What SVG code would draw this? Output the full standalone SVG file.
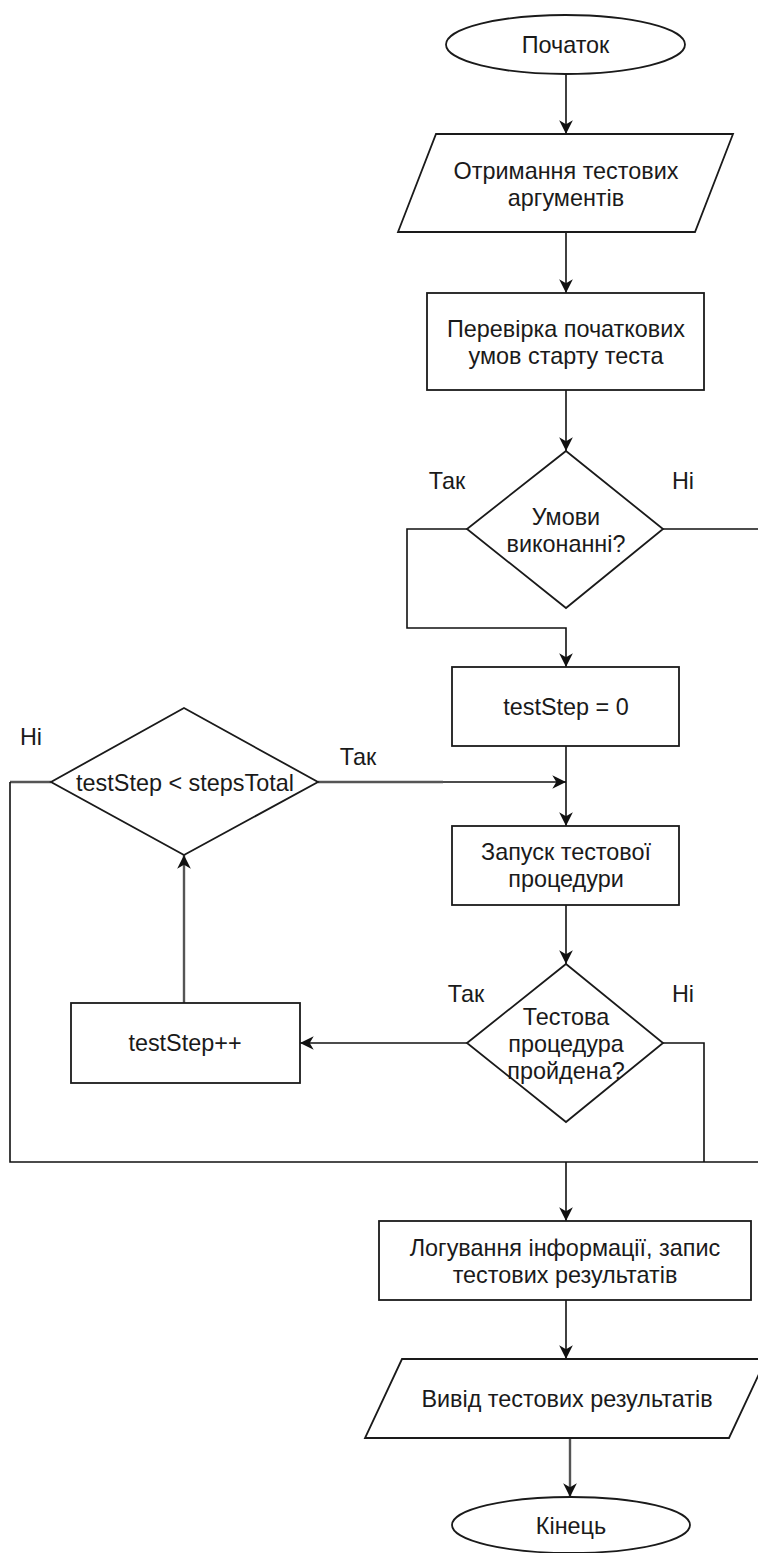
<svg xmlns="http://www.w3.org/2000/svg" width="758" height="1553" viewBox="0 0 758 1553">
  <style>
    .shape { fill: #ffffff; stroke: #1a1a1a; stroke-width: 1.8; }
    .lbl { font-family: "Liberation Sans", Arial, sans-serif; font-size: 23.4px; fill: #1a1a1a; text-anchor: middle; }
    .edge { fill: none; stroke: #111111; stroke-width: 1.6; }
    .edge-gray { fill: none; stroke: #555555; stroke-width: 2.4; }
  </style>
  <defs>
    <marker id="arrow" viewBox="0 0 14 14" refX="13" refY="7" markerWidth="16" markerHeight="16" markerUnits="userSpaceOnUse" orient="auto">
      <path d="M1,1 L13,7 L1,13 L4.5,7 z" fill="#111111"/>
    </marker>
  </defs>
  <rect width="758" height="1553" fill="#ffffff"/>

  <!-- connectors -->
  <g id="connectors">
    <path class="edge" d="M566,74 L566,134" marker-end="url(#arrow)"/>
    <path class="edge" d="M566,232 L566,293" marker-end="url(#arrow)"/>
    <path class="edge" d="M566,390 L566,451" marker-end="url(#arrow)"/>
    <path class="edge" d="M467,529 L407,529 L407,628 L566,628 L566,667" marker-end="url(#arrow)"/>
    <path class="edge" d="M663,529 L760,529"/>
    <path class="edge" d="M566,746 L566,826" marker-end="url(#arrow)"/>
    <path class="edge-gray" d="M318,782 L443,782"/>
    <path class="edge" d="M443,782 L566,782" marker-end="url(#arrow)"/>
    <path class="edge" d="M566,905 L566,964" marker-end="url(#arrow)"/>
    <path class="edge" d="M467,1043 L300,1043" marker-end="url(#arrow)"/>
    <path class="edge-gray" d="M184,1003 L184,855" marker-end="url(#arrow)"/>
    <path class="edge" d="M663,1043 L704,1043 L704,1162"/>
    <path class="edge-gray" d="M51,782 L10,782"/>
    <path class="edge" d="M10,782 L10,1162 L760,1162"/>
    <path class="edge" d="M566,1162 L566,1221" marker-end="url(#arrow)"/>
    <path class="edge" d="M566,1300 L566,1359" marker-end="url(#arrow)"/>
    <path class="edge-gray" d="M570,1438 L570,1497" marker-end="url(#arrow)"/>
  </g>

  <!-- edge labels -->
  <g id="edge-labels">
    <text class="lbl" x="447" y="489">Так</text>
    <text class="lbl" x="683" y="489">Ні</text>
    <text class="lbl" x="31" y="745">Ні</text>
    <text class="lbl" x="358" y="765">Так</text>
    <text class="lbl" x="466" y="1002">Так</text>
    <text class="lbl" x="683" y="1002">Ні</text>
  </g>

  <g id="start">
    <ellipse class="shape" cx="565.5" cy="44.5" rx="119.5" ry="29.5"/>
    <text class="lbl" x="565.5" y="53">Початок</text>
  </g>

  <g id="get-args">
    <polygon class="shape" points="436,134 733,134 695,232 398,232"/>
    <text class="lbl" x="566" y="179">Отримання тестових</text>
    <text class="lbl" x="566" y="206">аргументів</text>
  </g>

  <g id="check-conditions">
    <rect class="shape" x="427" y="293" width="277" height="97"/>
    <text class="lbl" x="566" y="337">Перевірка початкових</text>
    <text class="lbl" x="566" y="364">умов старту теста</text>
  </g>

  <g id="conditions-met">
    <polygon class="shape" points="566,451 663,529 566,608 467,529"/>
    <text class="lbl" x="566" y="525">Умови</text>
    <text class="lbl" x="566" y="552">виконанні?</text>
  </g>

  <g id="init-step">
    <rect class="shape" x="452" y="667" width="227" height="79"/>
    <text class="lbl" x="566" y="715">testStep = 0</text>
  </g>

  <g id="step-check">
    <polygon class="shape" points="184,708 318,782 184,855 51,782"/>
    <text class="lbl" x="185" y="791">testStep &lt; stepsTotal</text>
  </g>

  <g id="run-procedure">
    <rect class="shape" x="452" y="826" width="227" height="79"/>
    <text class="lbl" x="566" y="860">Запуск тестової</text>
    <text class="lbl" x="566" y="887">процедури</text>
  </g>

  <g id="procedure-passed">
    <polygon class="shape" points="566,964 663,1043 566,1122 467,1043"/>
    <text class="lbl" x="566" y="1025">Тестова</text>
    <text class="lbl" x="566" y="1052">процедура</text>
    <text class="lbl" x="566" y="1079">пройдена?</text>
  </g>

  <g id="step-increment">
    <rect class="shape" x="71" y="1003" width="229" height="80"/>
    <text class="lbl" x="185" y="1051">testStep++</text>
  </g>

  <g id="log-results">
    <rect class="shape" x="379" y="1221" width="372" height="79"/>
    <text class="lbl" x="565" y="1256">Логування інформації, запис</text>
    <text class="lbl" x="565" y="1283">тестових результатів</text>
  </g>

  <g id="output-results">
    <polygon class="shape" points="402,1359 766,1359 729,1438 365,1438"/>
    <text class="lbl" x="567" y="1407">Вивід тестових результатів</text>
  </g>

  <g id="end">
    <ellipse class="shape" cx="571" cy="1525" rx="119" ry="28"/>
    <text class="lbl" x="571" y="1534">Кінець</text>
  </g>
</svg>
